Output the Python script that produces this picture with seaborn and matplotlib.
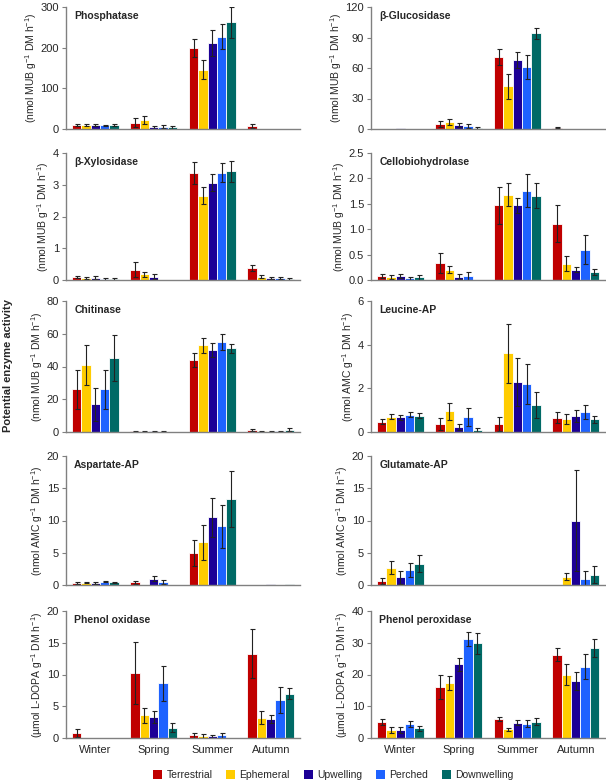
import pandas as pd
import matplotlib.pyplot as plt
import seaborn as sns
from matplotlib.patches import Patch

seasons = ["Winter", "Spring", "Summer", "Autumn"]
sites = ["Terrestrial", "Ephemeral", "Upwelling", "Perched", "Downwelling"]
site_colors = ["#C00000", "#FFCC00", "#1C0096", "#1E62FF", "#006A66"]

# values per season (rows) and site (columns)
phosphatase = [[10, 10, 10, 9, 10], [15, 22, 4, 6, 4], [200, 146, 212, 227, 262], [8, 0, 0, 0.6, 0]]
phosphatase_err = [[2, 2, 2, 2, 2], [11, 10, 3, 3, 4], [22, 23, 32, 30, 38], [5, 0, 0, 0, 0]]

glucosidase = [[0.3, 0.3, 0.5, 0.3, 0.3], [5, 7, 4, 3, 1], [71, 42, 68, 61, 94], [1, 0, 0, 0, 0]]
glucosidase_err = [[0, 0, 0, 0, 0], [3, 3, 2, 2, 1], [8, 12, 8, 12, 5], [0.5, 0, 0, 0, 0]]

xylosidase = [[0.1, 0.05, 0.07, 0.03, 0.03], [0.33, 0.18, 0.1, 0.01, 0.01],
              [3.38, 2.66, 3.07, 3.38, 3.42], [0.37, 0.1, 0.06, 0.06, 0.04]]
xylosidase_err = [[0.03, 0.03, 0.05, 0.02, 0.02], [0.25, 0.08, 0.08, 0, 0],
                  [0.35, 0.28, 0.28, 0.3, 0.32], [0.1, 0.05, 0.03, 0.04, 0.03]]

cellobiohydrolase = [[0.07, 0.05, 0.07, 0.03, 0.05], [0.33, 0.2, 0.06, 0.08, 0],
                     [1.47, 1.68, 1.47, 1.76, 1.66], [1.11, 0.32, 0.2, 0.6, 0.16]]
cellobiohydrolase_err = [[0.04, 0.04, 0.04, 0.03, 0.05], [0.2, 0.07, 0.05, 0.08, 0],
                         [0.36, 0.23, 0.15, 0.33, 0.24], [0.37, 0.15, 0.05, 0.28, 0.06]]

chitinase = [[26, 41, 17, 26, 45], [0.5, 0.3, 0.5, 0.3, 0.1], [44, 53, 50, 55, 51], [1.2, 0.6, 0.3, 0.6, 1.5]]
chitinase_err = [[12, 12, 10, 12, 14], [0.3, 0.2, 0.3, 0.2, 0], [4, 4.5, 4.5, 5, 3], [0.5, 0.3, 0.2, 0.3, 0.8]]

leucine = [[0.48, 0.7, 0.68, 0.8, 0.75], [0.36, 0.95, 0.22, 0.68, 0.08],
           [0.36, 3.6, 2.3, 2.2, 1.25], [0.65, 0.6, 0.75, 0.92, 0.58]]
leucine_err = [[0.12, 0.12, 0.12, 0.12, 0.1], [0.28, 0.38, 0.15, 0.4, 0.12],
               [0.32, 1.35, 1.1, 0.9, 0.6], [0.25, 0.22, 0.27, 0.33, 0.15]]

aspartate = [[0.3, 0.35, 0.3, 0.5, 0.4], [0.4, 0, 1.0, 0.4, 0], [4.9, 6.6, 10.5, 9.1, 13.3], [0.05, 0.05, 0.1, 0.05, 0.1]]
aspartate_err = [[0.1, 0.1, 0.1, 0.1, 0.1], [0.2, 0, 0.4, 0.3, 0], [2.0, 2.7, 3.0, 3.3, 4.3], [0, 0, 0, 0, 0]]

glutamate = [[0.6, 2.7, 1.2, 2.3, 3.3], [0, 0, 0, 0, 0], [0, 0, 0, 0, 0], [0, 1.3, 10.0, 1.0, 1.6]]
glutamate_err = [[0.5, 1.0, 1.0, 1.1, 1.3], [0, 0, 0, 0, 0], [0, 0, 0, 0, 0], [0, 0.6, 7.8, 1.2, 1.3]]

phenol_oxidase = [[0.8, 0, 0, 0, 0], [10.2, 3.6, 3.3, 8.6, 1.6], [0.4, 0.3, 0.25, 0.4, 0], [13.3, 3.2, 3.0, 6.0, 7.0]]
phenol_oxidase_err = [[0.6, 0, 0, 0, 0], [4.9, 1.2, 0.9, 2.7, 0.7], [0.4, 0.4, 0.3, 0.35, 0], [3.9, 1.0, 0.7, 2.1, 0.9]]

phenol_peroxidase = [[5.0, 2.5, 2.5, 4.4, 3.0], [16, 17.2, 23.2, 31.2, 29.8], [6.0, 2.7, 4.8, 4.5, 5.1], [26.2, 20, 18, 22.5, 28.3]]
phenol_peroxidase_err = [[1.0, 1.0, 0.9, 1.0, 0.9], [3.8, 2.2, 2.0, 2.3, 3.4], [0.6, 0.4, 0.8, 1.1, 1.1], [2.0, 3.3, 2.8, 4.0, 2.9]]

mub = "(nmol MUB g$^{-1}$ DM h$^{-1}$)"
amc = "(nmol AMC g$^{-1}$ DM h$^{-1}$)"
dopa = "(µmol L-DOPA g$^{-1}$ DM h$^{-1}$)"

# title, means, errors, unit, y ticks
panels = [
    ("Phosphatase", phosphatase, phosphatase_err, mub, [0, 100, 200, 300]),
    ("β-Glucosidase", glucosidase, glucosidase_err, mub, [0, 30, 60, 90, 120]),
    ("β-Xylosidase", xylosidase, xylosidase_err, mub, [0, 1, 2, 3, 4]),
    ("Cellobiohydrolase", cellobiohydrolase, cellobiohydrolase_err, mub, [0, 0.5, 1.0, 1.5, 2.0, 2.5]),
    ("Chitinase", chitinase, chitinase_err, mub, [0, 20, 40, 60, 80]),
    ("Leucine-AP", leucine, leucine_err, amc, [0, 2, 4, 6]),
    ("Aspartate-AP", aspartate, aspartate_err, amc, [0, 5, 10, 15, 20]),
    ("Glutamate-AP", glutamate, glutamate_err, amc, [0, 5, 10, 15, 20]),
    ("Phenol oxidase", phenol_oxidase, phenol_oxidase_err, dopa, [0, 5, 10, 15, 20]),
    ("Phenol peroxidase", phenol_peroxidase, phenol_peroxidase_err, dopa, [0, 10, 20, 30, 40]),
]

sns.set_theme(style="white")
plt.rcParams["font.family"] = ["Liberation Sans", "DejaVu Sans"]
plt.rcParams["mathtext.default"] = "regular"

W, H = 606, 781
fig = plt.figure(figsize=(W / 100, H / 100), dpi=100)

col_x = [(66, 300), (371, 605)]
row_y = [(7, 129), (153, 280), (301, 432), (456, 585), (611, 738)]

for i, (title, means, errs, unit, ticks) in enumerate(panels):
    r, c = divmod(i, 2)
    x0, x1 = col_x[c]
    y0, y1 = row_y[r]
    ax = fig.add_axes([x0 / W, 1 - y1 / H, (x1 - x0) / W, (y1 - y0) / H])

    df = pd.DataFrame([
        {"season": s, "site": st, "value": means[a][b]}
        for a, s in enumerate(seasons) for b, st in enumerate(sites)
    ])
    sns.barplot(data=df, x="season", y="value", hue="site", order=seasons,
                hue_order=sites, palette=site_colors, saturation=1, errorbar=None,
                width=0.8, edgecolor="white", linewidth=0.6, legend=False, ax=ax)

    bar_containers = list(ax.containers)
    for b, container in enumerate(bar_containers):
        for a, bar in enumerate(container):
            e = errs[a][b]
            if e > 0:
                ax.errorbar(bar.get_x() + bar.get_width() / 2, bar.get_height(), yerr=e,
                            fmt="none", ecolor="#222222", elinewidth=0.8,
                            capsize=1.8, capthick=0.8)

    ax.set_ylim(0, ticks[-1])
    ax.set_yticks(ticks)
    if title == "Cellobiohydrolase":
        ax.set_yticklabels([f"{t:.1f}" for t in ticks])
    ax.set_xlim(-0.5, 3.5)
    ax.set_xlabel("")
    ax.set_ylabel(unit, fontsize=7.5, labelpad=1)
    ax.text(0.035, 0.93, title, transform=ax.transAxes, fontsize=7.5,
            fontweight="bold", va="center", ha="left")
    for side in ["top", "right"]:
        ax.spines[side].set_visible(False)
    for side in ["left", "bottom"]:
        ax.spines[side].set_color("#808080")
        ax.spines[side].set_linewidth(1.0)
    ax.tick_params(axis="y", length=3, width=0.8, color="#808080", labelsize=8, pad=2, left=True)
    ax.tick_params(axis="x", length=0, labelsize=8, pad=5)
    if r < 4:
        ax.set_xticklabels([])

fig.text(0.014, 1 - 366 / H, "Potential enzyme activity", rotation=90, fontsize=8,
         fontweight="bold", va="center", ha="center")

handles = [Patch(facecolor=col, edgecolor="none") for col in site_colors]
fig.legend(handles, sites, loc="center", bbox_to_anchor=(0.55, 1 - 775 / H), ncol=5,
           frameon=False, fontsize=7.5, handlelength=0.9, handleheight=0.9,
           handletextpad=0.4, columnspacing=1.3, borderpad=0)

fig.savefig("out.png", dpi=100)
